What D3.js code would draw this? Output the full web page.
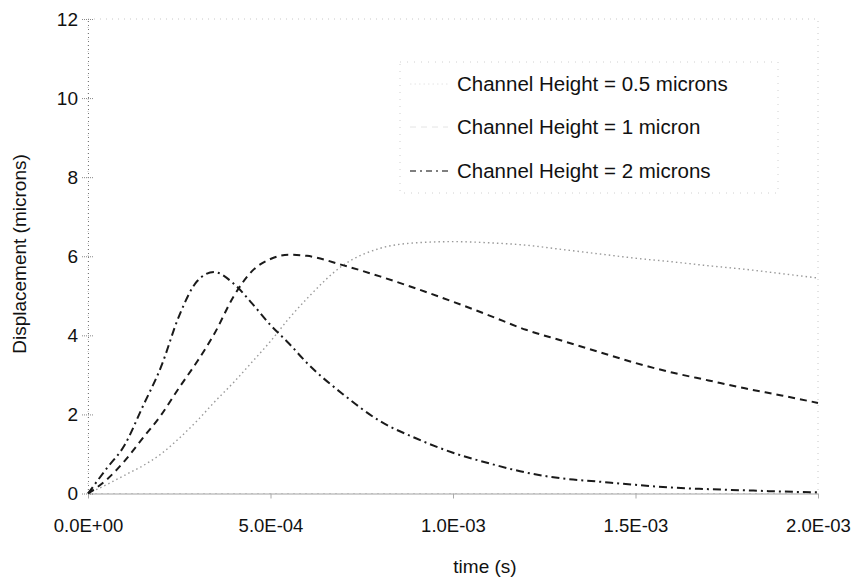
<!DOCTYPE html>
<html>
<head>
<meta charset="utf-8">
<script src="https://cdn.jsdelivr.net/npm/d3@7"></script>
<style>
html,body{margin:0;padding:0;background:#fff;}
text{font-family:"Liberation Sans",Arial,sans-serif;fill:#111;}
</style>
</head>
<body>
<svg id="chart" width="852" height="577"></svg>
<script>
// ---- data (time in seconds, displacement in microns) ----
const times = [0,0.5e-4,1e-4,1.5e-4,2e-4,2.5e-4,3e-4,3.45e-4,4e-4,4.5e-4,5e-4,5.5e-4,6e-4,7e-4,8e-4,9e-4,1e-3,1.1e-3,1.2e-3,1.3e-3,1.4e-3,1.5e-3,1.6e-3,1.7e-3,1.8e-3,1.9e-3,2e-3];
const h05 = [0,0.22,0.46,0.7,1.0,1.4,1.85,2.3,2.82,3.33,3.85,4.42,4.93,5.78,6.2,6.34,6.37,6.34,6.28,6.17,6.06,5.95,5.86,5.76,5.67,5.56,5.45];
const h1  = [0,0.34,0.82,1.4,1.98,2.68,3.35,4.02,5.0,5.63,5.93,6.04,6.01,5.77,5.49,5.18,4.85,4.5,4.14,3.86,3.58,3.3,3.06,2.86,2.66,2.48,2.29];
const h2  = [0,0.62,1.22,2.2,3.2,4.5,5.38,5.6,5.3,4.8,4.26,3.8,3.3,2.5,1.83,1.39,1.03,0.76,0.53,0.38,0.3,0.22,0.15,0.11,0.08,0.05,0.03];
const seriesNames = ["Channel Height = 0.5 microns","Channel Height = 1 micron","Channel Height = 2 microns"];
const xTicks = [0,5e-4,1e-3,1.5e-3,2e-3];
const xTickLabels = ["0.0E+00","5.0E-04","1.0E-03","1.5E-03","2.0E-03"];
const yTicks = [0,2,4,6,8,10,12];
const xTitle = "time (s)";
const yTitle = "Displacement (microns)";

// ---- layout ----
const L = 88, R = 818, T = 19, B = 493.5;
const svg = d3.select("#chart");
const x = d3.scaleLinear().domain([0,2e-3]).range([L,R]);
const y = d3.scaleLinear().domain([0,12]).range([B,T]);

const styles = [
  {stroke:"#9a9a9a", width:1.4, dash:"1.5,3"},
  {stroke:"#1a1a1a", width:2, dash:"7,5"},
  {stroke:"#1a1a1a", width:2, dash:"8,4,2,4"}
];
const legendSample = [
  {stroke:"#e4e4e4", width:1, dash:"1.5,3"},
  {stroke:"#e4e4e4", width:1, dash:"6,5"},
  {stroke:"#555", width:1.5, dash:"6,4,2,4"}
];

// plot frame (faint)
svg.append("rect").attr("x",L).attr("y",T).attr("width",R-L).attr("height",B-T)
  .attr("fill","none").attr("stroke","#c8c8c8").attr("stroke-width",1).attr("stroke-dasharray","1,5");

// legend box (faint)
svg.append("rect").attr("x",400).attr("y",62).attr("width",378).attr("height",131)
  .attr("fill","none").attr("stroke","#d0d0d0").attr("stroke-width",1).attr("stroke-dasharray","1,6");

// axes
const yAxis = d3.axisLeft(y).tickValues(yTicks).tickSize(6).tickSizeOuter(0).tickPadding(4);
const gy = svg.append("g").attr("transform",`translate(${L},0)`).call(yAxis);
gy.select(".domain").attr("stroke","#777").attr("stroke-dasharray","1,3");
gy.selectAll(".tick line").attr("stroke","#888").attr("stroke-dasharray","1,1").attr("x2",6).attr("x1",-6);
gy.selectAll(".tick text").attr("font-size",19).attr("x",-10).attr("fill","#111");

const xAxis = d3.axisBottom(x).tickValues(xTicks).tickFormat((d,i)=>xTickLabels[i]).tickSize(5).tickSizeOuter(0).tickPadding(20);
const gx = svg.append("g").attr("transform",`translate(0,${B})`).call(xAxis);
gx.select(".domain").attr("stroke","#444").attr("stroke-dasharray","1,1");
gx.selectAll(".tick line").attr("stroke","#aaa");
gx.selectAll(".tick text").attr("font-size",18.5).attr("fill","#111");

// titles
svg.append("text").attr("x",485).attr("y",573).attr("text-anchor","middle").attr("font-size",19).text(xTitle);
svg.append("text").attr("transform","translate(26,254) rotate(-90)").attr("text-anchor","middle").attr("font-size",19).text(yTitle);

// lines
const line = d3.line().x(d=>x(d[0])).y(d=>y(d[1])).curve(d3.curveMonotoneX);
[h05,h1,h2].forEach((vals,i)=>{
  const pts = times.map((t,j)=>[t,vals[j]]);
  svg.append("path").datum(pts).attr("d",line).attr("fill","none")
    .attr("stroke",styles[i].stroke).attr("stroke-width",styles[i].width)
    .attr("stroke-dasharray",styles[i].dash).attr("stroke-linecap","butt");
});

// legend
const legY = [84,127,171];
seriesNames.forEach((name,i)=>{
  svg.append("line").attr("x1",410).attr("x2",448).attr("y1",legY[i]).attr("y2",legY[i])
    .attr("stroke",legendSample[i].stroke).attr("stroke-width",legendSample[i].width)
    .attr("stroke-dasharray",legendSample[i].dash);
  svg.append("text").attr("x",457).attr("y",legY[i]).attr("dy","0.35em").attr("font-size",20.5).text(name);
});
</script>
</body>
</html>
